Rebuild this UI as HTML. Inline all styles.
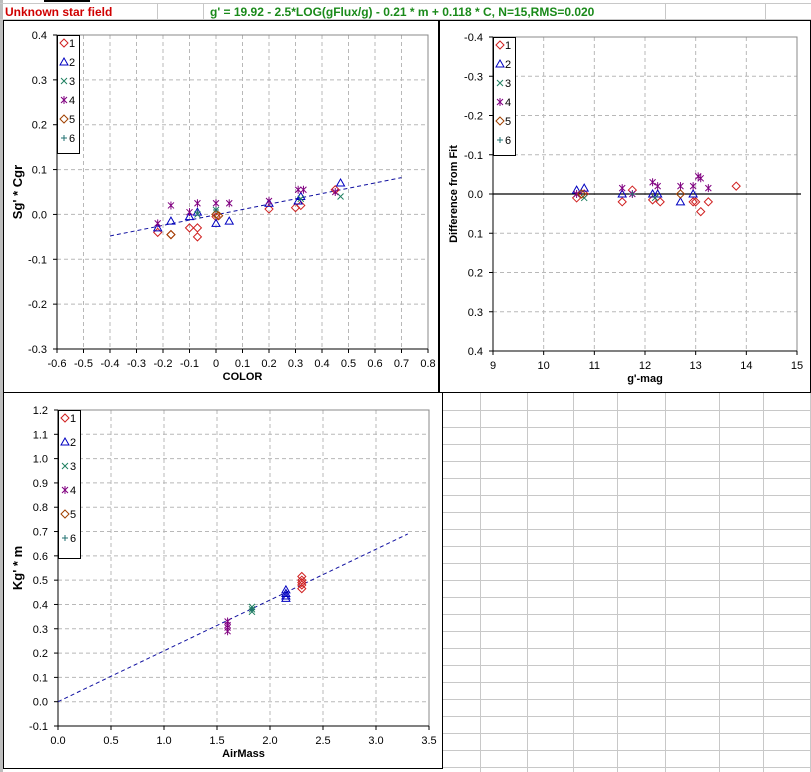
<!DOCTYPE html>
<html><head><meta charset="utf-8"><style>
body{margin:0;background:#fff;}
svg{display:block;font-family:"Liberation Sans",Arial,sans-serif;}
</style></head><body>
<svg id="s" width="811" height="772" viewBox="0 0 811 772" xmlns="http://www.w3.org/2000/svg">
<rect x="0" y="0" width="811" height="772" fill="#fff"/>
<g id="sheet" stroke="#c8c8c8" stroke-width="1"></g>
<rect x="0" y="0" width="3" height="772" fill="#bdbdbd"/>
<g>
<line x1="0" y1="3.5" x2="811" y2="3.5" stroke="#c8c8c8"/>
<line x1="0" y1="19.5" x2="811" y2="19.5" stroke="#c8c8c8"/>
<line x1="157.5" y1="3" x2="157.5" y2="20" stroke="#c8c8c8"/>
<line x1="203.5" y1="3" x2="203.5" y2="20" stroke="#c8c8c8"/>
<line x1="665.5" y1="3" x2="665.5" y2="20" stroke="#c8c8c8"/>
<line x1="765.5" y1="3" x2="765.5" y2="20" stroke="#c8c8c8"/>
<rect x="44" y="0" width="46" height="2" fill="#000"/>
<text x="5" y="16" font-size="12" font-weight="bold" fill="#d00000">Unknown star field</text>
<text x="210" y="16" font-size="12" font-weight="bold" fill="#1a8a1a">g' = 19.92 - 2.5*LOG(gFlux/g) - 0.21 * m + 0.118 * C, N=15,RMS=0.020</text>
</g>
<rect x="3.5" y="20.5" width="435" height="372" fill="#fff" stroke="#000"/>
<rect x="439.5" y="20.5" width="371" height="372" fill="#fff" stroke="#000"/>
<rect x="3.5" y="392.5" width="439" height="376" fill="#fff" stroke="#000"/>
<g id="c1"></g>
<g id="c2"></g>
<g id="c3"></g>
</svg>
<script>
// ---- chart 1 data (COLOR vs Sg'*Cgr)
const c1X1=[-0.22,-0.17,-0.10,-0.07,-0.07,0.00,0.20,0.30,0.32,0.45];
const c1Y1=[-0.040,-0.045,-0.030,-0.030,-0.050,-0.005,0.012,0.015,0.020,0.055];
const c1X2=[-0.22,-0.17,-0.10,-0.07,0.00,0.05,0.20,0.31,0.32,0.47];
const c1Y2=[-0.030,-0.015,-0.005,0.005,-0.020,-0.015,0.025,0.030,0.040,0.070];
const c1X3=[-0.07,0.00,0.32,0.47];
const c1Y3=[0.000,0.010,0.035,0.040];
const c1X4=[-0.22,-0.17,-0.10,-0.07,0.00,0.05,0.20,0.31,0.33,0.45];
const c1Y4=[-0.020,0.020,0.005,0.025,0.025,0.025,0.030,0.055,0.055,0.050];
const c1X5=[-0.17,0.00,0.01];
const c1Y5=[-0.045,0.000,-0.003];
const c1X6=[-0.07,0.00];
const c1Y6=[0.005,0.010];
const c1Trend=[[-0.40,-0.048],[0.70,0.082]];
const c1XTicks=[-0.6,-0.5,-0.4,-0.3,-0.2,-0.1,0,0.1,0.2,0.3,0.4,0.5,0.6,0.7,0.8];
const c1YTicks=[0.4,0.3,0.2,0.1,0,-0.1,-0.2,-0.3];
// ---- chart 2 data (g'-mag vs residual)
const c2X1=[10.65,10.80,11.55,11.75,12.15,12.30,12.95,13.00,13.10,13.25,13.80];
const c2Y1=[0.010,0.000,0.020,-0.010,0.015,0.020,0.020,0.020,0.045,0.020,-0.020];
const c2X2=[10.65,10.80,11.55,12.15,12.25,12.70,12.95];
const c2Y2=[-0.010,-0.015,0.000,0.000,0.000,0.020,0.000];
const c2X3=[10.80,12.20];
const c2Y3=[0.010,0.010];
const c2X4=[10.65,11.55,11.75,12.15,12.25,12.70,12.95,13.05,13.10,13.25];
const c2Y4=[0.000,-0.015,0.000,-0.030,-0.020,-0.020,-0.020,-0.045,-0.040,-0.015];
const c2X5=[10.75,12.70];
const c2Y5=[0.000,0.000];
const c2X6=[11.75];
const c2Y6=[0.000];
const c2XTicks=[9,10,11,12,13,14,15];
const c2YTicks=[-0.4,-0.3,-0.2,-0.1,0,0.1,0.2,0.3,0.4];
// ---- chart 3 data (AirMass vs Kg'*m)
const c3X1=[2.30,2.30,2.30,2.30,2.30];
const c3Y1=[0.465,0.480,0.490,0.500,0.515];
const c3X2=[2.15,2.15,2.15,2.15];
const c3Y2=[0.425,0.435,0.445,0.460];
const c3X3=[1.83,1.83,1.83];
const c3Y3=[0.370,0.380,0.390];
const c3X4=[1.60,1.60,1.60,1.60];
const c3Y4=[0.290,0.305,0.315,0.330];
const c3X5=[];
const c3Y5=[];
const c3X6=[1.83];
const c3Y6=[0.380];
const c3Trend=[[0,0],[3.3,0.69]];
const c3XTicks=[0,0.5,1,1.5,2,2.5,3,3.5];
const c3YTicks=[1.2,1.1,1.0,0.9,0.8,0.7,0.6,0.5,0.4,0.3,0.2,0.1,0,-0.1];

const NS="http://www.w3.org/2000/svg";
function mk(tag,parent,attrs){const e=document.createElementNS(NS,tag);for(const k in attrs)e.setAttribute(k,attrs[k]);parent.appendChild(e);return e;}
const colors=['#d02020','#0000c0','#208060','#800080','#a04000','#207070'];

const sheet=document.getElementById('sheet');
[480,527,573,617,665,719,763,810].forEach(x=>{const l=mk('line',sheet,{x1:x+.5,y1:393,x2:x+.5,y2:772});

});
for(let y=410;y<772;y+=17){const l=mk('line',sheet,{x1:443,y1:y+.5,x2:811,y2:y+.5});

}

function marker(g,type,x,y,c){
  let e;
  if(type===0||type===4){e=mk('polygon',g,{points:`${x},${y-4} ${x+4},${y} ${x},${y+4} ${x-4},${y}`,fill:'none',stroke:c});}
  else if(type===1){e=mk('polygon',g,{points:`${x},${y-4} ${x+4},${y+3} ${x-4},${y+3}`,fill:'none',stroke:c});}
  else if(type===2){e=mk('path',g,{d:`M${x-3} ${y-3}L${x+3} ${y+3}M${x+3} ${y-3}L${x-3} ${y+3}`,stroke:c});}
  else if(type===3){e=mk('path',g,{d:`M${x-3} ${y-3}L${x+3} ${y+3}M${x+3} ${y-3}L${x-3} ${y+3}M${x} ${y-4}L${x} ${y+4}`,stroke:c});}
  else {e=mk('path',g,{d:`M${x-3} ${y}L${x+3} ${y}M${x} ${y-3}L${x} ${y+3}`,stroke:c});}
  return e;
}

function chart(id,o){
  const g=document.getElementById(id);
  const sx=v=>o.x0+(v-o.xmin)/(o.xmax-o.xmin)*(o.x1-o.x0);
  const sy=v=>o.inv? o.y0+(v-o.ymin)/(o.ymax-o.ymin)*(o.y1-o.y0) : o.y1-(v-o.ymin)/(o.ymax-o.ymin)*(o.y1-o.y0);
  o.xt.forEach(t=>{const X=sx(t);if(Math.abs(X-o.x0)>1&&Math.abs(X-o.x1)>1){const l=mk('line',g,{x1:X,y1:o.y0,x2:X,y2:o.y1,stroke:'#b8b8b8','stroke-dasharray':'4,3'});
    
    }});
  o.yt.forEach(t=>{const Y=sy(t);if(Math.abs(Y-o.y0)>1&&Math.abs(Y-o.y1)>1){const l=mk('line',g,{x1:o.x0,y1:Y,x2:o.x1,y2:Y,stroke:'#b8b8b8','stroke-dasharray':'4,3'});
    
    }});
  const br=mk('path',g,{d:`M${o.x0} ${o.y0}L${o.x1} ${o.y0}L${o.x1} ${o.y1}`,stroke:'#888',fill:'none'});
  
  
  const ax=mk('path',g,{d:`M${o.x0} ${o.y0}L${o.x0} ${o.y1}L${o.x1} ${o.y1}`,stroke:'#000',fill:'none'});
  
  
  o.xt.forEach(t=>{const X=sx(t);mk('line',g,{x1:X,y1:o.y1,x2:X,y2:o.y1+4,stroke:'#000'});
    const tx=mk('text',g,{x:X,y:o.y1+18,'font-size':11,'text-anchor':'middle'});tx.textContent=o.xf(t);
    
    });
  o.yt.forEach(t=>{const Y=sy(t);mk('line',g,{x1:o.x0-4,y1:Y,x2:o.x0,y2:Y,stroke:'#000'});
    const tx=mk('text',g,{x:o.x0-10,y:Y+4,'font-size':11,'text-anchor':'end'});tx.textContent=t.toFixed(1);
    
    });
  if(o.zero){const l=mk('line',g,{x1:o.x0,y1:sy(0),x2:o.x1+4,y2:sy(0),stroke:'#000','stroke-width':1.3});
    
    }
  if(o.trend){const l=mk('line',g,{x1:sx(o.trend[0][0]),y1:sy(o.trend[0][1]),x2:sx(o.trend[1][0]),y2:sy(o.trend[1][1]),stroke:'#1010a0','stroke-dasharray':'4,3'});
    
    }
  o.series.forEach((s,i)=>{s[0].forEach((xv,j)=>{const m=marker(g,i,sx(xv),sy(s[1][j]),colors[i]);
    
    });});
  const xl=mk('text',g,{x:(o.x0+o.x1)/2,y:o.y1+31,'font-size':11,'font-weight':'bold','text-anchor':'middle'});xl.textContent=o.xlab;
  
  
  const yl=mk('text',g,{x:0,y:0,'font-size':o.ylfs,'font-weight':'bold','text-anchor':'middle',transform:`translate(${o.ylx},${(o.y0+o.y1)/2}) rotate(-90)`});yl.textContent=o.ylab;
  
  
  const lg=mk('g',g,{});
  
  
  mk('rect',lg,{x:o.x0+.5,y:o.y0+.5,width:22,height:o.lh*6+4,fill:'#fff',stroke:'#000'});
  for(let i=0;i<6;i++){const Y=o.y0+11+i*o.lh;marker(lg,i,o.x0+7,Y-3,colors[i]);
    const t=mk('text',lg,{x:o.x0+12,y:Y+1,'font-size':11});t.textContent=String(i+1);
    
    }
}

chart('c1',{x0:57,x1:428,y0:35,y1:349,xmin:-0.6,xmax:0.8,ymin:-0.3,ymax:0.4,xt:c1XTicks,yt:c1YTicks,xf:t=>String(Math.round(t*10)/10),
  trend:c1Trend,series:[[c1X1,c1Y1],[c1X2,c1Y2],[c1X3,c1Y3],[c1X4,c1Y4],[c1X5,c1Y5],[c1X6,c1Y6]],xlab:'COLOR',ylab:"Sg' * Cgr",ylx:22,ylfs:13,lh:19});
chart('c2',{x0:493,x1:797,y0:37,y1:351,inv:true,xmin:9,xmax:15,ymin:-0.4,ymax:0.4,xt:c2XTicks,yt:c2YTicks,xf:t=>String(t),zero:true,
  series:[[c2X1,c2Y1],[c2X2,c2Y2],[c2X3,c2Y3],[c2X4,c2Y4],[c2X5,c2Y5],[c2X6,c2Y6]],xlab:"g'-mag",ylab:'Difference from Fit',ylx:457,ylfs:11,lh:19});
chart('c3',{x0:58,x1:429,y0:410,y1:726,xmin:0,xmax:3.5,ymin:-0.1,ymax:1.2,xt:c3XTicks,yt:c3YTicks,xf:t=>t.toFixed(1),
  trend:c3Trend,series:[[c3X1,c3Y1],[c3X2,c3Y2],[c3X3,c3Y3],[c3X4,c3Y4],[c3X5,c3Y5],[c3X6,c3Y6]],xlab:'AirMass',ylab:"Kg' * m",ylx:22,ylfs:13,lh:24});
</script>
</body></html>
